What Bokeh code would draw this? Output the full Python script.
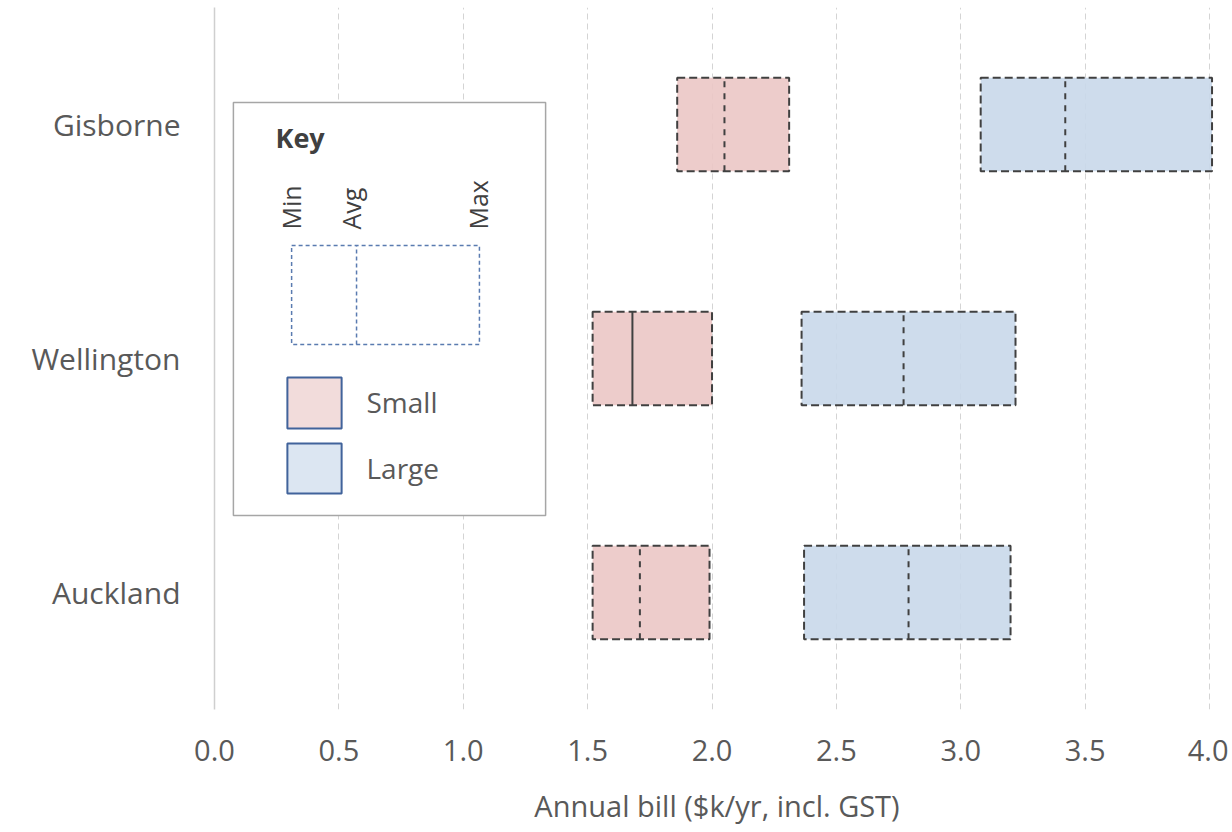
import math
from bokeh.plotting import figure
from bokeh.models import FixedTicker, NumeralTickFormatter, Range1d, ColumnDataSource
from bokeh.core.properties import value
from bokeh.embed import file_html
from bokeh.resources import INLINE

# ---- data ----
cities = ["Auckland", "Wellington", "Gisborne"]
small_min = [1.52, 1.52, 1.86]
small_avg = [1.71, 1.68, 2.05]
small_max = [1.99, 2.00, 2.31]
large_min = [2.37, 2.36, 3.08]
large_avg = [2.79, 2.77, 3.42]
large_max = [3.20, 3.22, 4.01]
small_avg_dash = ["dashed", "solid", "dashed"]
large_avg_dash = ["dashed", "dashed", "dashed"]
x_ticks = [0.0, 0.5, 1.0, 1.5, 2.0, 2.5, 3.0, 3.5, 4.0]

FONT = "Open Sans"
TXT = "#595959"
SMALL_FILL = "#ebc6c5"
LARGE_FILL = "#c9d8ea"
EDGE = "#404040"
BAR_H = 0.4

ypos = list(range(len(cities)))

p = figure(width=1228, height=830, output_backend="svg", toolbar_location=None,
           x_range=Range1d(0, 4.04), y_range=Range1d(-0.5, 2.5),
           min_border_left=214, min_border_right=9, min_border_top=7, min_border_bottom=121)
p.outline_line_color = None
p.background_fill_color = "white"

# grid
p.xgrid.ticker = FixedTicker(ticks=x_ticks[1:])
p.xgrid.grid_line_color = "#d4d4d4"
p.xgrid.grid_line_dash = "6 4"
p.xgrid.grid_line_width = 1
p.ygrid.grid_line_color = None

# x axis
p.xaxis.ticker = FixedTicker(ticks=x_ticks)
p.xaxis.formatter = NumeralTickFormatter(format="0.0")
p.xaxis.axis_line_color = None
p.xaxis.major_tick_line_color = None
p.xaxis.minor_tick_line_color = None
p.xaxis.major_tick_out = 0
p.xaxis.major_label_standoff = 30
p.xaxis.major_label_text_font = FONT
p.xaxis.major_label_text_font_size = "29px"
p.xaxis.major_label_text_color = TXT
p.xaxis.axis_label = "Annual bill ($k/yr, incl. GST)"
p.xaxis.axis_label_text_font = FONT
p.xaxis.axis_label_text_font_size = "29px"
p.xaxis.axis_label_text_font_style = "normal"
p.xaxis.axis_label_text_color = TXT
p.xaxis.axis_label_standoff = 22

# y axis
p.yaxis.ticker = FixedTicker(ticks=ypos)
p.yaxis.major_label_overrides = {i: c for i, c in enumerate(cities)}
p.yaxis.axis_line_color = "#cfcfcf"
p.yaxis.axis_line_width = 1.5
p.yaxis.major_tick_line_color = None
p.yaxis.minor_tick_line_color = None
p.yaxis.major_tick_out = 0
p.yaxis.major_label_standoff = 34
p.yaxis.major_label_text_font = FONT
p.yaxis.major_label_text_font_size = "30px"
p.yaxis.major_label_text_color = TXT

# bars
for mins, avgs, maxs, fill, dashes in [(small_min, small_avg, small_max, SMALL_FILL, small_avg_dash),
                                        (large_min, large_avg, large_max, LARGE_FILL, large_avg_dash)]:
    src = ColumnDataSource(dict(y=ypos, left=mins, right=maxs, avg=avgs,
                                top=[y + BAR_H / 2 for y in ypos],
                                bottom=[y - BAR_H / 2 for y in ypos]))
    p.quad(left="left", right="right", top="top", bottom="bottom", source=src,
           fill_color=fill, fill_alpha=0.9, line_color=EDGE, line_width=2, line_dash="8 4")
    for i, y in enumerate(ypos):
        p.segment(x0=[avgs[i]], x1=[avgs[i]], y0=[y - BAR_H / 2], y1=[y + BAR_H / 2],
                  line_color=EDGE, line_width=2, line_dash=dashes[i])

# ---- key (annotation box) ----
p.quad(left=[0.076], right=[1.331], top=[2.094], bottom=[0.329],
       fill_color="white", line_color="#a6a6a6", line_width=1.5)
p.text(x=[0.245], y=[1.944], text=["Key"], text_font=value(FONT), text_font_size="27px",
       text_font_style="bold", text_color="#404040", text_baseline="middle", text_align="left")
p.text(x=[0.306, 0.547, 1.061], y=[1.551, 1.551, 1.551], text=["Min", "Avg", "Max"],
       angle=math.pi / 2, text_font=value(FONT), text_font_size="25px", text_color="#404040",
       text_baseline="middle", text_align="left")
p.quad(left=[0.310], right=[1.065], top=[1.483], bottom=[1.060], fill_color=None,
       line_color="#5a7bb0", line_width=1.5, line_dash="4 3")
p.segment(x0=[0.571], x1=[0.571], y0=[1.060], y1=[1.483], line_color="#5a7bb0",
          line_width=1.5, line_dash="4 3")
p.quad(left=[0.293, 0.293], right=[0.511, 0.511], top=[0.919, 0.637], bottom=[0.701, 0.423],
       fill_color=["#f2dcdb", "#dce6f2"], line_color="#41639b", line_width=2)
p.text(x=[0.611, 0.611], y=[0.812, 0.534], text=["Small", "Large"], text_font=value(FONT),
       text_font_size="28px", text_color=TXT, text_baseline="middle", text_align="left")

open("out.html", "w").write(file_html(p, INLINE))
